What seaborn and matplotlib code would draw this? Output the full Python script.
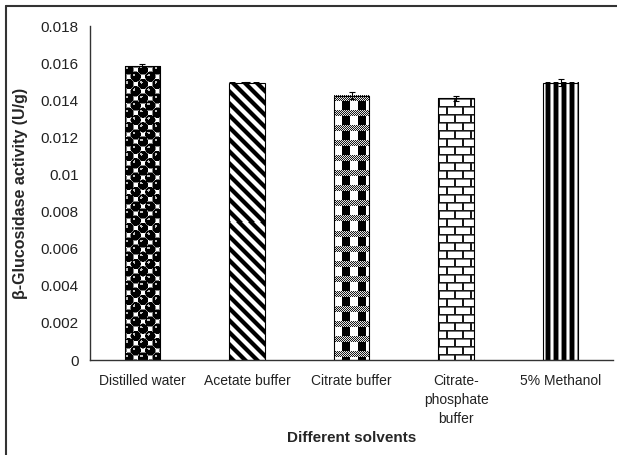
import numpy as np
import matplotlib
matplotlib.use("Agg")
import matplotlib.pyplot as plt
import seaborn as sns
from matplotlib.lines import Line2D

# ---- data -------------------------------------------------------------
solvents = ["Distilled water", "Acetate buffer", "Citrate buffer",
            "Citrate-\nphosphate\nbuffer", "5% Methanol"]
activity = [0.01584, 0.01494, 0.01424, 0.01410, 0.01494]
activity_err = [0.00011, 0.00002, 0.00018, 0.00012, 0.00018]
y_ticks = [0, 0.002, 0.004, 0.006, 0.008, 0.010, 0.012, 0.014, 0.016, 0.018]
y_tick_labels = ["0", "0.002", "0.004", "0.006", "0.008", "0.01",
                 "0.012", "0.014", "0.016", "0.018"]


# ---- fill textures (pixel arrays, 0 = black, 1 = white) ---------------
def tex_balls(h, w):
    yy, xx = np.mgrid[0:h, 0:w] + 0.5
    cell = 7.2
    X = xx / cell - 0.5
    Y = yy / cell - 0.5
    p = np.round((X + Y) / 2)
    q = np.round((X - Y) / 2)
    dx = (X - (p + q)) * cell
    dy = (Y - (p - q)) * cell
    d = np.hypot(dx, dy)
    img = np.ones((h, w))
    img[d < 5.5] = 0.5
    img[d < 4.9] = 0.0
    hl = np.hypot(dx + 1.6, dy + 1.6)
    img[(hl < 1.3) & (d < 4.9)] = 0.75
    return img


def tex_diag(h, w):
    yy, xx = np.mgrid[0:h, 0:w]
    m = (xx - yy) % 12
    img = np.ones((h, w))
    img[(m >= 1) & (m < 6)] = 0.0
    img[(m == 0) | (m == 6)] = 0.5
    return img


def tex_plaid(h, w):
    yy, xx = np.mgrid[0:h, 0:w]
    img = np.where((xx % 16) >= 8, 0.0, 1.0)
    band = (yy % 15) < 6
    dither = ((xx + yy) % 2).astype(float) * 0.8 + 0.1
    img = np.where(band, dither, img)
    return img


def tex_bricks(h, w):
    yy, xx = np.mgrid[0:h, 0:w]
    row = yy // 8
    img = np.ones((h, w))
    img[(yy % 8) == 0] = 0.1
    img[(yy % 8) == 1] = 0.45
    joint = ((xx + 8 * (row % 2)) % 16) < 2
    img[joint] = 0.1
    return img


def tex_vstripes(h, w):
    yy, xx = np.mgrid[0:h, 0:w]
    m = xx % 8
    img = np.ones((h, w))
    img[(m >= 3) & (m <= 6)] = 0.0
    img[(m == 2) | (m == 7)] = 0.55
    return img


textures = [tex_balls, tex_diag, tex_plaid, tex_bricks, tex_vstripes]

# ---- figure -----------------------------------------------------------
sns.set_style("white")
plt.rcParams["font.family"] = ["Liberation Sans", "DejaVu Sans"]
plt.rcParams["font.size"] = 10

W, H = 617, 455
fig = plt.figure(figsize=(W / 100, H / 100), dpi=100)
ax = fig.add_axes([90 / W, 1 - 360 / H, (613 - 90) / W, (360 - 26) / H])

sns.barplot(x=solvents, y=activity, color="white", saturation=1,
            edgecolor="black", linewidth=0.8, width=0.34, errorbar=None,
            ax=ax)

ax.set_xlim(-0.5, 4.5)
ax.set_ylim(0, 0.018)

bars = list(ax.patches)
for bar, make_tex in zip(bars, textures):
    x0, x1 = bar.get_x(), bar.get_x() + bar.get_width()
    y1 = bar.get_height()
    (px0, py0), (px1, py1) = ax.transData.transform([(x0, 0), (x1, y1)])
    wpx = max(int(round(px1 - px0)), 1)
    hpx = max(int(round(py1 - py0)), 1)
    img = make_tex(hpx, wpx)
    ax.imshow(img, cmap="gray", vmin=0, vmax=1, extent=(x0, x1, 0, y1),
              origin="upper", aspect="auto", interpolation="nearest",
              zorder=2)
    bar.set_facecolor("none")
    bar.set_zorder(3)

centers = [b.get_x() + b.get_width() / 2 for b in bars]
ax.errorbar(centers, activity, yerr=activity_err, fmt="none",
            ecolor="black", elinewidth=0.8, capsize=2.5, capthick=0.8,
            zorder=5)

ax.set_xlim(-0.5, 4.5)
ax.set_ylim(0, 0.018)
ax.set_aspect("auto")

# axes styling
for side in ("top", "right"):
    ax.spines[side].set_visible(False)
for side in ("left", "bottom"):
    ax.spines[side].set_color("#333333")
    ax.spines[side].set_linewidth(1.0)

ax.set_yticks(y_ticks)
ax.set_yticklabels(y_tick_labels)
ax.tick_params(axis="y", direction="out", length=3, width=0.8,
               color="#333333", pad=5, labelsize=11, labelcolor="#222222")

ax.set_xticks(range(len(solvents)))
ax.set_xticklabels(solvents)
ax.set_xticks(np.arange(-0.5, len(solvents), 1.0), minor=True)
ax.tick_params(axis="x", which="major", length=0, pad=10, labelsize=10,
               labelcolor="#222222")
ax.tick_params(axis="x", which="minor", direction="out", length=3.2,
               width=0.8, color="#333333")
for t in ax.get_xticklabels():
    t.set_linespacing(1.45)

ax.set_xlabel("Different solvents", fontsize=11, fontweight="bold")
ax.set_ylabel("β-Glucosidase activity (U/g)", fontsize=11.5,
              fontweight="bold")
ax.xaxis.set_label_coords(0.5, -0.212)
ax.yaxis.set_label_coords(-0.118, 0.5)

# outer frame (left and top edges)
fig.add_artist(Line2D([5.5 / W, 5.5 / W], [0, 1 - 5.5 / H],
                      transform=fig.transFigure, color="#333333", lw=1.5))
fig.add_artist(Line2D([5.5 / W, 1], [1 - 5.5 / H, 1 - 5.5 / H],
                      transform=fig.transFigure, color="#333333", lw=1.5))

fig.savefig("out.png", dpi=100)
